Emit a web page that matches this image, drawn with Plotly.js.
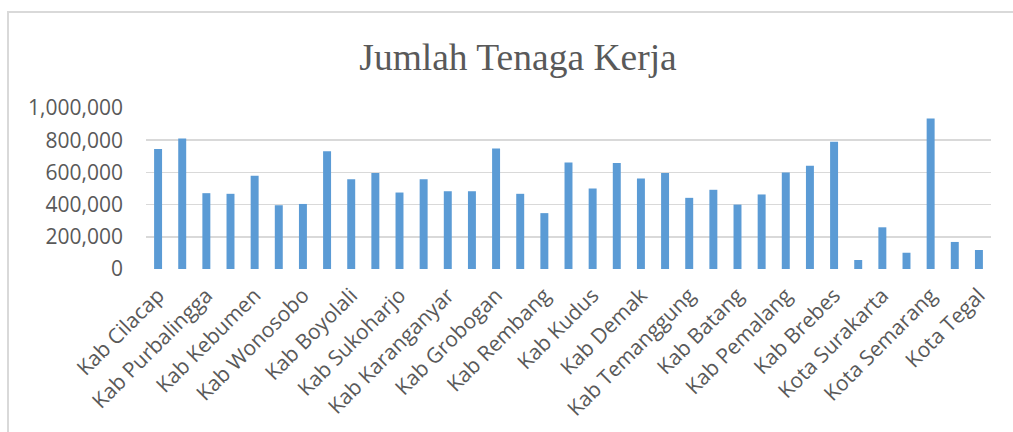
<!DOCTYPE html>
<html>
<head>
<meta charset="utf-8">
<script src="https://cdn.plot.ly/plotly-3.0.1.min.js"></script>
<style>
  html, body { margin: 0; padding: 0; background: #ffffff; overflow: hidden; }
  #frame { position: absolute; left: 7px; top: 11px; width: 1020px; height: 440px;
           border-top: 2px solid #d9d9d9; border-left: 2px solid #d9d9d9; }
  #chart { position: absolute; left: 0; top: 0; width: 1013px; height: 432px; }
</style>
</head>
<body>
<div id="frame"></div>
<div id="chart"></div>
<script>
const categories = [
  "Kab Cilacap", "Kab Banyumas", "Kab Purbalingga", "Kab Banjarnegara", "Kab Kebumen",
  "Kab Purworejo", "Kab Wonosobo", "Kab Magelang", "Kab Boyolali", "Kab Klaten",
  "Kab Sukoharjo", "Kab Wonogiri", "Kab Karanganyar", "Kab Sragen", "Kab Grobogan",
  "Kab Blora", "Kab Rembang", "Kab Pati", "Kab Kudus", "Kab Jepara",
  "Kab Demak", "Kab Semarang", "Kab Temanggung", "Kab Kendal", "Kab Batang",
  "Kab Pekalongan", "Kab Pemalang", "Kab Tegal", "Kab Brebes", "Kota Magelang",
  "Kota Surakarta", "Kota Salatiga", "Kota Semarang", "Kota Pekalongan", "Kota Tegal"
];
const tenagaKerja = [
  745000, 811000, 471000, 467000, 579000,
  396000, 404000, 732000, 558000, 596000,
  475000, 558000, 483000, 483000, 749000,
  467000, 347000, 662000, 500000, 658000,
  562000, 596000, 442000, 492000, 400000,
  463000, 599000, 641000, 790000, 56000,
  259000, 101000, 935000, 168000, 118000
];
const yTickVals = [0, 200000, 400000, 600000, 800000, 1000000];
const yTickText = ["0", "200,000", "400,000", "600,000", "800,000", "1,000,000"];
const shownLabels = categories.filter((c, i) => i % 2 === 0);

const trace = {
  type: "bar",
  x: categories,
  y: tenagaKerja,
  marker: { color: "#5b9bd5", line: { width: 0 } },
  hoverinfo: "x+y"
};

const layout = {
  width: 1013,
  height: 432,
  margin: { l: 146, r: 22, t: 108, b: 163, pad: 0 },
  paper_bgcolor: "rgba(0,0,0,0)",
  plot_bgcolor: "rgba(0,0,0,0)",
  bargap: 0.67,
  showlegend: false,
  title: {
    text: "Jumlah Tenaga Kerja",
    font: { family: "Liberation Serif, Times New Roman, serif", size: 37.5, color: "#595959" },
    x: 518 / 1013, xref: "container", xanchor: "center",
    y: 1 - 57 / 432, yref: "container", yanchor: "middle"
  },
  xaxis: {
    type: "category",
    tickmode: "array",
    tickvals: shownLabels,
    ticktext: shownLabels,
    tickangle: -45,
    tickfont: { family: "Open Sans, sans-serif", size: 21, color: "#595959" },
    showgrid: false,
    showline: false,
    zeroline: false,
    ticks: "",
    ticklabelstandoff: 9,
    automargin: false,
    fixedrange: true
  },
  yaxis: {
    range: [0, 1000000],
    tickmode: "array",
    tickvals: yTickVals,
    ticktext: yTickText,
    tickfont: { family: "Open Sans, sans-serif", size: 21, color: "#595959" },
    showgrid: true,
    gridcolor: "#d9d9d9",
    gridwidth: 1.5,
    zeroline: false,
    showline: false,
    ticks: "",
    ticklabelstandoff: 22,
    automargin: false,
    fixedrange: true
  }
};

Plotly.newPlot("chart", [trace], layout, { displayModeBar: false, staticPlot: true });
</script>
</body>
</html>
